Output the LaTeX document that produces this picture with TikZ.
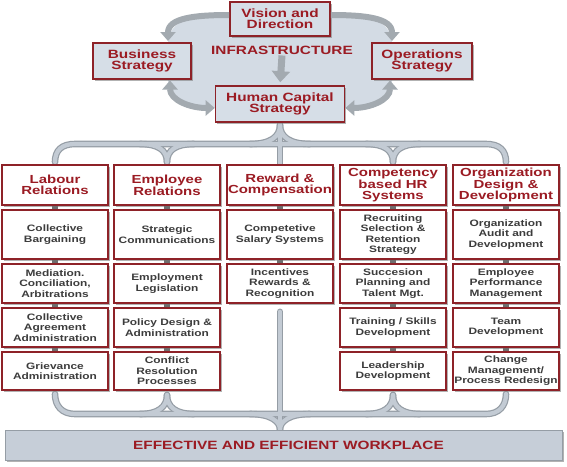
\documentclass[tikz,border=0pt]{standalone}
\usepackage{fontspec}
\setmainfont{Liberation Sans}[FakeStretch=1.28]
\usetikzlibrary{shadows,arrows.meta,backgrounds}
\definecolor{dred}{HTML}{9B1B23}
\definecolor{bred}{HTML}{8E2228}
\definecolor{txtgray}{HTML}{3C3C3C}
\definecolor{boxblue}{HTML}{D6DEE7}
\definecolor{blobblue}{HTML}{D3DBE4}
\definecolor{pipein}{HTML}{C3CBD4}
\definecolor{pipeout}{HTML}{959DA5}
\definecolor{arrowgray}{HTML}{A3AAB0}
\definecolor{barfill}{HTML}{C6CED8}
\definecolor{linkgray}{HTML}{6E6E6E}
\begin{document}
\begin{tikzpicture}[x=1pt,y=-1pt,
  boxbase/.style={draw=bred, line width=1.6pt, inner sep=1pt, align=center,
    drop shadow={shadow xshift=1.8pt,shadow yshift=-1.8pt,fill=black!50,opacity=0.6}},
  topbox/.style={boxbase, fill=boxblue, text=dred, minimum height=36pt,
    font=\fontsize{12}{11}\selectfont\bfseries},
  headbox/.style={boxbase, fill=white, text=dred, minimum width=106pt, minimum height=40pt,
    font=\fontsize{11.7}{10.6}\selectfont\bfseries},
  itembox/.style={boxbase, fill=white, text=txtgray, minimum width=106pt,
    font=\fontsize{9.3}{10.5}\selectfont\bfseries},
  rowa/.style={itembox, minimum height=49pt},
  rowb/.style={itembox, minimum height=39pt},
  rowc/.style={itembox, minimum height=39pt},
  rowd/.style={itembox, minimum height=38pt},
  linkbar/.style={draw=linkgray, line width=6pt},
  pipeouter/.style={draw=pipeout, line width=6.6pt, line cap=round},
  pipeinner/.style={draw=pipein, line width=4.2pt, line cap=round},
  curarrow/.style={draw=arrowgray, line width=6pt, {Triangle[width=15pt,length=9pt]}-{Triangle[width=15pt,length=9pt]}},
  onearrow/.style={draw=arrowgray, line width=6pt, -{Triangle[width=15pt,length=9pt]}},
]
\useasboundingbox (0,0) rectangle (567,466);

% top boxes
\node[topbox, minimum width=100pt, minimum height=34pt] (vision) at (280,19) {Vision and\\Direction};
\node[topbox, minimum width=98pt] (bus) at (142,61) {Business\\Strategy};
\node[topbox, minimum width=100pt] (ops) at (422,61) {Operations\\Strategy};
\node[topbox, minimum width=129pt] (hc) at (280,104) {Human Capital\\Strategy};
\node[text=dred, font=\fontsize{12}{12}\selectfont\bfseries, inner sep=1pt] (infra) at (282,50) {INFRASTRUCTURE};

% headers
\node[headbox] (h1) at (55,185) {Labour\\Relations};
\node[headbox] (h2) at (167,185) {Employee\\Relations};
\node[headbox] (h3) at (280,185) {Reward \&\\Compensation};
\node[headbox] (h4) at (393,185) {Competency\\based HR\\Systems};
\node[headbox] (h5) at (506,185) {Organization\\Design \&\\Development};

% column 1
\node[rowa] (a1) at (55,234.5) {Collective\\Bargaining};
\node[rowb] (b1) at (55,283.5) {Mediation.\\Conciliation,\\Arbitrations};
\node[rowc] (c1) at (55,327.5) {Collective\\Agreement\\Administration};
\node[rowd] (d1) at (55,371) {Grievance\\Administration};
% column 2
\node[rowa] (a2) at (167,234.5) {Strategic\\Communications};
\node[rowb] (b2) at (167,283.5) {Employment\\Legislation};
\node[rowc] (c2) at (167,327.5) {Policy Design \&\\Administration};
\node[rowd] (d2) at (167,371) {Conflict\\Resolution\\Processes};
% column 3
\node[rowa] (a3) at (280,234.5) {Competetive\\Salary Systems};
\node[rowb] (b3) at (280,283.5) {Incentives\\Rewards \&\\Recognition};
% column 4
\node[rowa] (a4) at (393,234.5) {Recruiting\\Selection \&\\Retention\\Strategy};
\node[rowb] (b4) at (393,283.5) {Succesion\\Planning and\\Talent Mgt.};
\node[rowc] (c4) at (393,327.5) {Training / Skills\\Development};
\node[rowd] (d4) at (393,371) {Leadership\\Development};
% column 5
\node[rowa] (a5) at (506,234.5) {Organization\\Audit and\\Development};
\node[rowb] (b5) at (506,283.5) {Employee\\Performance\\Management};
\node[rowc] (c5) at (506,327.5) {Team\\Development};
\node[rowd] (d5) at (506,371) {Change\\Management/\\Process Redesign};

% bottom bar
\node[draw=pipeout, line width=1pt, fill=barfill, minimum width=557pt, minimum height=30pt,
  text=dred, font=\fontsize{12}{12}\selectfont\bfseries, text depth=0pt,
  drop shadow={shadow xshift=1.8pt,shadow yshift=-1.8pt,fill=black!50,opacity=0.6}]
  (bar) at (283.5,445) {\hspace*{10pt}EFFECTIVE AND EFFICIENT WORKPLACE};

% small links between boxes
\foreach \i in {1,2,4,5}{
  \draw[linkbar] (h\i.south) -- (a\i.north);
  \draw[linkbar] (a\i.south) -- (b\i.north);
  \draw[linkbar] (b\i.south) -- (c\i.north);
  \draw[linkbar] (c\i.south) -- (d\i.north);
}
\draw[linkbar] (h3.south) -- (a3.north);
\draw[linkbar] (a3.south) -- (b3.north);

% arrow end coordinates
\coordinate (vl) at ([yshift=4pt]vision.west);
\coordinate (vr) at ([yshift=4pt]vision.east);
\coordinate (bt) at (168,41);
\coordinate (ot) at (392,41);
\coordinate (bb) at (170,80.5);
\coordinate (ob) at (390,80.5);
\coordinate (hl) at ([yshift=-4pt]hc.west);
\coordinate (hr) at ([yshift=-4pt]hc.east);
\coordinate (stemtop) at ([yshift=-8pt]b3.south);
\coordinate (stembot) at (b3.south |- bar.north);

\begin{pgfonlayer}{background}
  \fill[white] (0,0) rectangle (567,466);
  % infrastructure blob
  \fill[blobblue] (vl) .. controls (195,15) and (168,18) .. (168,45) -- (168,81)
     .. controls (168,100) and (190,108) .. (hl) -- (hr)
     .. controls (370,108) and (392,100) .. (392,81) -- (392,45)
     .. controls (392,18) and (365,15) .. (vr) -- cycle;
  % pipes
  \foreach \s in {pipeouter,pipeinner}{
    % top brace
    \draw[\s] (55,162) .. controls (55,150) and (62,144) .. (75,144) -- (486,144)
       .. controls (499,144) and (506,150) .. (506,162);
    \draw[\s] (140,144) .. controls (158,144) and (167,150) .. (167,162);
    \draw[\s] (194,144) .. controls (176,144) and (167,150) .. (167,162);
    \draw[\s] (366,144) .. controls (384,144) and (393,150) .. (393,162);
    \draw[\s] (420,144) .. controls (402,144) and (393,150) .. (393,162);
    \draw[\s] (hc.south) -- (h3.north);
    \draw[\s] (250,144) .. controls (270,144) and (280,137) .. (280,125);
    \draw[\s] (310,144) .. controls (290,144) and (280,137) .. (280,125);
    % bottom brace
    \draw[\s] (55,394) .. controls (55,406) and (62,414) .. (75,414) -- (486,414)
       .. controls (499,414) and (506,406) .. (506,394);
    \draw[\s] (140,414) .. controls (158,414) and (167,407) .. (167,395);
    \draw[\s] (194,414) .. controls (176,414) and (167,407) .. (167,395);
    \draw[\s] (366,414) .. controls (384,414) and (393,407) .. (393,395);
    \draw[\s] (420,414) .. controls (402,414) and (393,407) .. (393,395);
    \draw[\s] (stemtop) -- (stembot);
    \draw[\s] (250,414) .. controls (270,414) and (280,421) .. (stembot);
    \draw[\s] (310,414) .. controls (290,414) and (280,421) .. (stembot);
  }
\end{pgfonlayer}

% top arrows
\draw[onearrow] (vl) .. controls (195,15) and (168,18) .. (bt);
\draw[onearrow] (vr) .. controls (365,15) and (392,18) .. (ot);
\draw[curarrow] (bb) .. controls (170,100) and (190,108) .. (hl);
\draw[curarrow] (ob) .. controls (390,100) and (370,108) .. (hr);
\draw[draw=arrowgray, line width=7pt, -{Triangle[width=18pt,length=11pt]}, shorten >=3pt]
  (infra.south) -- (hc.north);
\end{tikzpicture}
\end{document}
